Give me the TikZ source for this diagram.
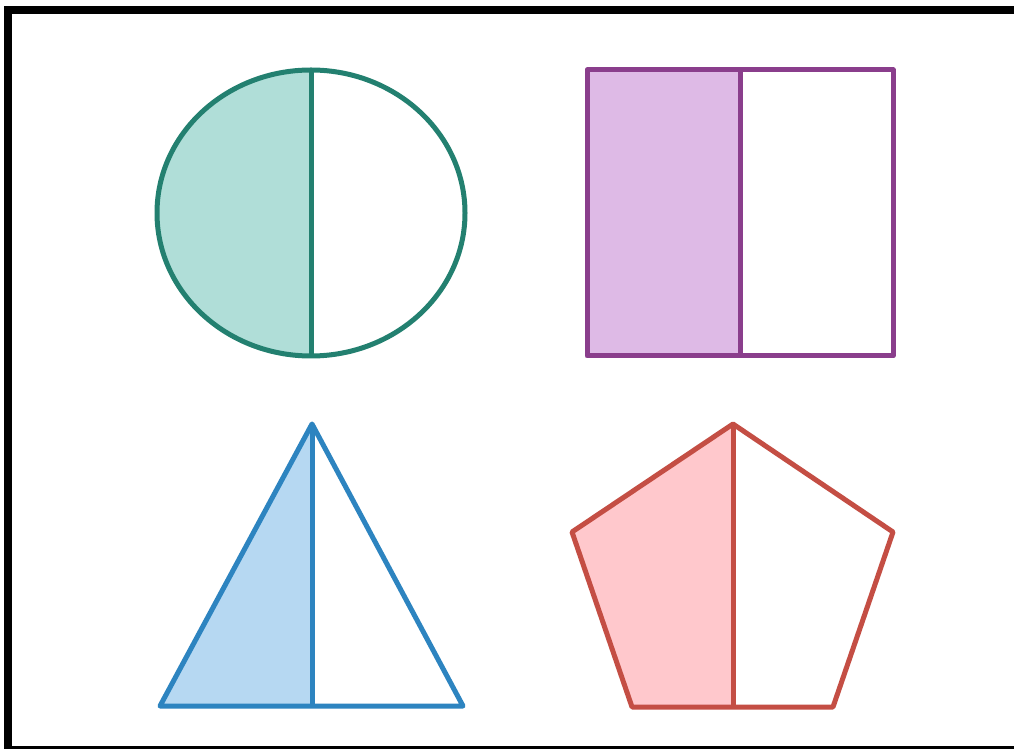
\documentclass[tikz,border=0pt]{standalone}
\usepackage{xcolor}
\usepackage{tikz}
\usetikzlibrary{calc}
\definecolor{myteal}{RGB}{35,128,112}
\definecolor{mypurple}{RGB}{138,62,140}
\definecolor{myblue}{RGB}{45,132,192}
\definecolor{myred}{RGB}{196,78,68}
\definecolor{hdrteal}{RGB}{176,222,216}
\definecolor{hdrpurple}{RGB}{222,186,230}
\definecolor{hdrblue}{RGB}{182,216,242}
\definecolor{hdrred}{RGB}{255,200,204}
\tikzset{
  outline/.style={line width=0.1cm, line join=round},
  frame/.style={draw=black, line width=0.16cm}
}
\begin{document}
\begin{tikzpicture}[x=0.02cm, y=-0.02cm]
  \useasboundingbox (0,0) rectangle (1014,749);
  \clip (0,0) rectangle (1014,749);
  \fill[white] (0,0) rectangle (1014,749);
  % Frame
  \draw[frame] (8,10) rectangle (1020,750);

  % Circle (half shaded)
  \coordinate (cc) at (311,213);
  \fill[hdrteal] (311,70) arc[start angle=270, end angle=90, x radius=154, y radius=143] -- cycle;
  \draw[outline, myteal] (cc) ellipse[x radius=154, y radius=143];
  \draw[outline, myteal] (311,70) -- (311,356);

  % Rectangle (half shaded)
  \coordinate (rtl) at (587,70);
  \coordinate (rbr) at (893,356);
  \fill[hdrpurple] (rtl) rectangle (740,356);
  \draw[outline, mypurple] (rtl) rectangle (rbr);
  \draw[outline, mypurple] (740,70) -- (740,356);

  % Triangle (half shaded)
  \coordinate (ta) at (312,424);
  \coordinate (tl) at (160,706);
  \coordinate (tr) at (463,706);
  \fill[hdrblue] (ta) -- (tl) -- (312,706) -- cycle;
  \draw[outline, myblue] (ta) -- (tl) -- (tr) -- cycle;
  \draw[outline, myblue] (ta) -- (312,706);

  % Pentagon (half shaded)
  \coordinate (pa) at (733,424);
  \coordinate (pl) at (572,532);
  \coordinate (pr) at (893,532);
  \coordinate (pbl) at (632,707);
  \coordinate (pbr) at (833,707);
  \fill[hdrred] (pa) -- (pl) -- (pbl) -- (733,707) -- cycle;
  \draw[outline, myred] (pa) -- (pl) -- (pbl) -- (pbr) -- (pr) -- cycle;
  \draw[outline, myred] (pa) -- (733,707);
\end{tikzpicture}
\end{document}
